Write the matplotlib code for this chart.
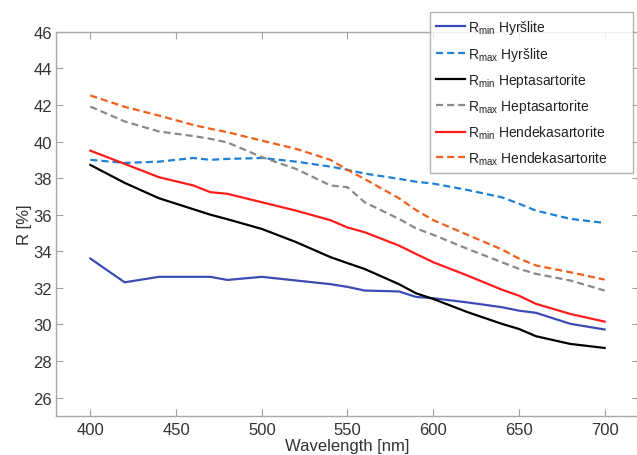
import matplotlib
matplotlib.use("Agg")
import matplotlib.pyplot as plt

plt.rcParams['font.family'] = ['Liberation Sans', 'DejaVu Sans']
plt.rcParams['mathtext.fontset'] = 'custom'
plt.rcParams['mathtext.rm'] = 'Liberation Sans'
plt.rcParams['mathtext.it'] = 'Liberation Sans:italic'

wavelength = [400, 420, 440, 460, 470, 480, 500, 520, 540, 550, 560, 580, 590, 600, 620, 640, 650, 660, 680, 700]

rmin_hyrslite = [33.6, 32.3, 32.6, 32.6, 32.6, 32.43, 32.6, 32.4, 32.2, 32.05, 31.85, 31.8, 31.5, 31.43, 31.2, 30.94, 30.75, 30.63, 30.03, 29.72]
rmax_hyrslite = [39.0, 38.83, 38.9, 39.1, 39.0, 39.05, 39.1, 38.9, 38.63, 38.45, 38.25, 37.96, 37.8, 37.7, 37.35, 36.95, 36.6, 36.22, 35.77, 35.55]
rmin_hepta = [38.72, 37.74, 36.9, 36.3, 36.0, 35.75, 35.22, 34.5, 33.68, 33.35, 33.03, 32.2, 31.7, 31.39, 30.67, 30.03, 29.75, 29.35, 28.93, 28.71]
rmax_hepta = [41.91, 41.1, 40.55, 40.3, 40.15, 39.95, 39.15, 38.5, 37.6, 37.5, 36.68, 35.77, 35.25, 34.9, 34.13, 33.4, 33.04, 32.76, 32.4, 31.85]
rmin_hendeka = [39.5, 38.78, 38.05, 37.6, 37.23, 37.14, 36.68, 36.22, 35.7, 35.3, 35.04, 34.31, 33.85, 33.4, 32.67, 31.9, 31.57, 31.12, 30.57, 30.15]
rmax_hendeka = [42.52, 41.9, 41.42, 40.91, 40.7, 40.51, 40.05, 39.6, 39.0, 38.45, 37.95, 36.9, 36.25, 35.7, 34.9, 34.1, 33.6, 33.22, 32.85, 32.45]

labels = [r"R$_{\mathrm{min}}$ Hyršlite", r"R$_{\mathrm{max}}$ Hyršlite",
          r"R$_{\mathrm{min}}$ Heptasartorite", r"R$_{\mathrm{max}}$ Heptasartorite",
          r"R$_{\mathrm{min}}$ Hendekasartorite", r"R$_{\mathrm{max}}$ Hendekasartorite"]
series = [rmin_hyrslite, rmax_hyrslite, rmin_hepta, rmax_hepta, rmin_hendeka, rmax_hendeka]
colors = ['#3b4db5', '#1f80d6', '#000000', '#8a8a8a', '#ff1c1c', '#f0601e']
styles = ['-', '--', '-', '--', '-', '--']

fig = plt.figure(figsize=(6.37, 4.56), dpi=100)
ax = fig.add_axes([0.088, 0.086, 0.915, 0.842])

for ys, c, ls, lab in zip(series, colors, styles, labels):
    ax.plot(wavelength, ys, color=c, linestyle=ls, linewidth=1.6, label=lab,
            dashes=(3.2, 1.8) if ls == '--' else (None, None))

ax.set_xlim(380, 720)
ax.set_ylim(25, 46)
ax.set_xticks([400, 450, 500, 550, 600, 650, 700])
ax.set_yticks(list(range(26, 47, 2)))
ax.tick_params(direction='in', length=5, color='#a0a0a0', labelsize=12,
               labelcolor='#333333', top=True, right=True)
ax.tick_params(axis='x', pad=4.5)
ax.tick_params(axis='y', pad=3)
for s in ax.spines.values():
    s.set_color('#a8a8a8')
    s.set_linewidth(1.0)

ax.set_xlabel('Wavelength [nm]', fontsize=12, color='#333333', labelpad=0.5)
ax.set_ylabel('R [%]', fontsize=12, color='#333333', labelpad=1)

top = 1 - 13 / 456
leg = ax.legend(loc='upper left', bbox_to_anchor=(430 / 637, 0.5, 203 / 637, top - 0.5),
                bbox_transform=fig.transFigure, mode='expand', fontsize=10, frameon=True,
                fancybox=False, handlelength=2.1, handletextpad=0.15,
                labelspacing=0.6, borderpad=0.45, borderaxespad=0)
leg.get_frame().set_edgecolor('#a0a0a0')
leg.get_frame().set_linewidth(1.0)
for t in leg.get_texts():
    t.set_color('#222222')

fig.savefig('out.png', dpi=100)
